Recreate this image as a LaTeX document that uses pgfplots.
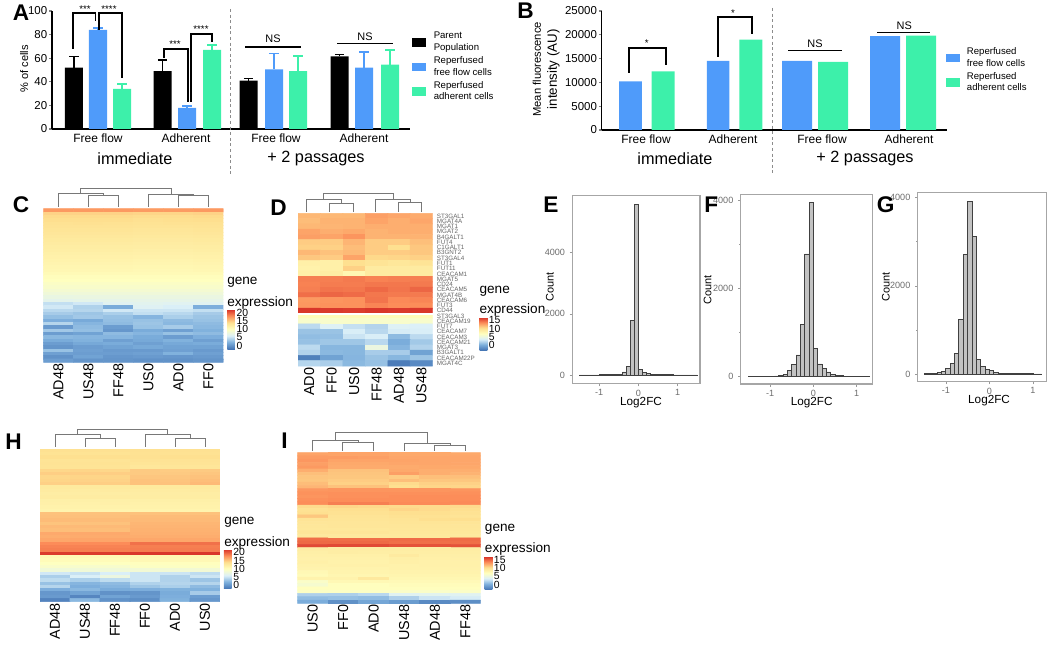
\documentclass[border=0pt]{standalone}
\usepackage{fontspec}
\setmainfont{Liberation Sans}
\usepackage{pgfplots}
\pgfplotsset{compat=1.18}

\definecolor{cblue}{RGB}{79,155,250}
\definecolor{cgreen}{RGB}{61,240,170}
\definecolor{dendro}{RGB}{120,120,120}
\newcommand{\fs}[1]{\fontsize{#1}{#1}\selectfont}

\pgfplotsset{
  colormap={rdylbu}{rgb255=(69,117,180) rgb255=(125,175,220) rgb255=(220,240,248) rgb255=(255,255,191) rgb255=(254,224,144) rgb255=(252,141,89) rgb255=(215,48,39)},
  /pgf/number format/assume math mode=true,
  /pgf/number format/1000 sep={},
  pos/.style 2 args={at={({#1*0.75pt},{-#2*0.75pt})},anchor=south west},
  swatch/.style={legend image code/.code={\fill[##1,draw=none] (0pt,-3.2pt) rectangle (10.5pt,3.2pt);}},
  barplot/.style={scale only axis,axis x line*=bottom,axis y line*=left,
    axis line style={-,line width=0.9pt},tick align=outside,
    xtick style={draw=none},ytick style={line width=0.8pt},major tick length=2.2pt,
    scaled y ticks=false,
    y tick label style={font=\fs{8.6},inner xsep=1.2pt},x tick label style={font=\fs{9},yshift=2.5pt},
    legend cell align=left,
    legend style={draw=none,fill=none,font=\fontsize{7.2}{8.8}\selectfont,cells={align=left},inner sep=0pt,row sep=-1.1pt,
      /tikz/every odd column/.append style={column sep=3.5pt}}},
  mybar/.style 2 args={ybar,bar shift=0pt,bar width=#1,fill=#2,draw=none,swatch},
  errs/.style={error bars/.cd,y dir=plus,y explicit,
    error bar style={line width=1.2pt,color=#1},
    error mark options={rotate=90,mark size=3.4pt,line width=1.2pt,color=#1}},
  hist/.style={scale only axis,axis line style={draw=gray!70,line width=0.9pt},
    tick align=outside,major tick length=2pt,minor tick length=1.2pt,
    every tick/.style={draw=gray!80},xtick pos=lower,ytick pos=left,
    tick label style={font=\fs{6.8},text=gray!85!black},x tick label style={yshift=1pt},xtick={-1,0,1},
    label style={font=\fs{8}}},
  histbar/.style={ybar interval,fill=gray!48,draw=black!75,line width=0.65pt},
  heat/.style={scale only axis,y dir=reverse,axis line style={draw=none},tick style={draw=none},
    enlargelimits=false,xmin=-0.5,xmax=5.5,ymin=-0.5,ymax=#1-0.5,ytick=\empty,xtick={0,...,5},
    x tick label style={rotate=90,anchor=east,font=\fs{10.8},inner xsep=1pt},
    colormap name=rdylbu,colorbar},
  cbar/.style 2 args={colorbar style={at={#1},anchor=north west,width=5.8pt,height=#2,
    ytick={0,5,...,20},ytick pos=right,yticklabel pos=right,major tick length=0pt,
    axis line style={draw=none},tick style={draw=none},y dir=normal,
    y tick label style={font=\fs{7.8},inner xsep=1pt}}},
  cell/.style={matrix plot*,mesh/cols=6,point meta=explicit},
}
\tikzset{
  px/.style={x=0.75pt,y=-0.75pt},
  dend/.style={draw=dendro,line width=0.75pt},
  brk/.style={draw=black,line width=1.3pt},
  sep/.style={draw=gray!90,line width=0.6pt,dashed,dash pattern=on 2.2pt off 2pt},
  head/.style={font=\bfseries\fs{17},anchor=base west,inner sep=0pt},
  small/.style={font=\fs{7.3},inner sep=0pt},
  ns/.style={font=\fs{8.2},inner sep=0pt},
  big/.style={font=\fs{12.2},inner sep=0pt},
  gene/.style={font=\fs{10.2},anchor=west,inner sep=0pt},
}

\begin{document}
\begin{tikzpicture}
\path[use as bounding box] (0pt,0pt) rectangle (787.5pt,-483.75pt);

% ---------- A
\begin{axis}[pos={52}{129},barplot,width=268.5pt,height=88.5pt,
  xmin=52,xmax=410,ymin=0,ymax=100,ytick={0,20,...,100},
  xtick={98,186,276,364},xticklabels={Free flow,Adherent,Free flow,Adherent},
  ylabel={\fs{8.3}\% of cells},
  every axis y label/.style={at={(axis description cs:-0.078,0.51)},rotate=90,anchor=center},
  legend style={at={(1.006,0.844)},anchor=north west}]
\addplot[mybar={13.5pt}{black},errs=black] coordinates {(74,52) +- (0,9.5) (162.5,49) +- (0,9.5) (248.5,41) +- (0,1.7) (339.5,61.5) +- (0,1.7)};
\addlegendentry{Parent\\Population}
\addplot[mybar={13.5pt}{cblue},errs=cblue] coordinates {(98,84) +- (0,1.5) (187,18) +- (0,1.5) (274,50.5) +- (0,13.5) (364,52) +- (0,13.5)};
\addlegendentry{Reperfused\\free flow cells}
\addplot[mybar={13.5pt}{cgreen},errs=cgreen] coordinates {(122,34) +- (0,4) (212,67) +- (0,4) (298,49) +- (0,13) (390,54.5) +- (0,12.5)};
\addlegendentry{Reperfused\\adherent cells}
\end{axis}
\begin{scope}[px]
\draw[brk] (73,49)--(73,12.7)--(95.5,12.7)--(95.5,21);
\draw[brk] (99.3,30)--(99.3,12.7)--(122.3,12.7)--(122.3,78);
\draw[brk] (164,58)--(164,49)--(187.7,49)--(187.7,101.7);
\draw[brk] (190.7,101.7)--(190.7,34)--(212,34)--(212,41.7);
\draw[brk,line width=0.9pt] (245,47)--(301,47);
\draw[brk,line width=0.9pt] (337.3,43.7)--(393.3,43.7);
\node[small] at (85,9) {***};
\node[small] at (109,9) {****};
\node[small] at (175,44) {***};
\node[small] at (201,29) {****};
\node[ns] at (273,38.7) {NS};
\node[ns] at (365,36.7) {NS};
\draw[sep] (230,9)--(230,175);
\node[big] at (135,159) {immediate};
\node[big] at (316,159) {+ 2 passages};
\node[head] at (12.7,21) {A};
\end{scope}

% ---------- B
\begin{axis}[pos={601.7}{130},barplot,width=259pt,height=89.25pt,
  xmin=601.7,xmax=947,ymin=0,ymax=25000,ytick={0,5000,...,25000},
  xtick={646,733,822,909},xticklabels={Free flow,Adherent,Free flow,Adherent},
  ylabel={\fs{8.4}Mean fluorescence\\intensity (AU)},
  every axis y label/.style={at={(axis description cs:-0.161,0.51)},rotate=90,anchor=center,align=center},
  legend style={at={(0.995,0.718)},anchor=north west}]
\addplot[mybar={16.9pt}{cblue}] coordinates {(630.5,10200) (718.2,14500)};
\addlegendentry{Reperfused\\free flow cells}
\addplot[mybar={17.2pt}{cgreen}] coordinates {(663.2,12300) (750.8,19000)};
\addlegendentry{Reperfused\\adherent cells}
\addplot[mybar={22.5pt}{cblue},forget plot] coordinates {(797,14500) (885,19700)};
\addplot[mybar={22.5pt}{cgreen},forget plot] coordinates {(833,14300) (921,19800)};
\end{axis}
\begin{scope}[px]
\draw[brk] (629.3,72.7)--(629.3,48.3)--(665.7,48.3)--(665.7,65);
\draw[brk] (718,56.7)--(718,17.3)--(752,17.3)--(752,34.3);
\draw[brk,line width=0.9pt] (788.3,50.7)--(842,50.7);
\draw[brk,line width=0.9pt] (877,32.7)--(930.3,32.7);
\node[small] at (646.7,43) {*};
\node[small] at (733,13) {*};
\node[ns] at (815,43.3) {NS};
\node[ns] at (904.3,25.3) {NS};
\draw[sep] (772.7,8)--(772.7,175);
\node[big] at (675,159) {immediate};
\node[big] at (865,159) {+ 2 passages};
\node[head] at (517,18.7) {B};
\end{scope}

% ---------- C
\begin{axis}[pos={43.3}{362.3},heat=46,width=135pt,height=115.2pt,
  point meta min=-2.2,point meta max=22,
  xticklabels={AD48,US48,FF48,US0,AD0,FF0},
  cbar={(1.022,0.345)}{29.8pt}]
\addplot[cell] table[row sep=\\,header=false,x expr={mod(\coordindex,6)},y expr={floor((\coordindex+0.5)/6)},meta index=0]{
17.4\\17.4\\17.4\\17.3\\17.3\\17.4\\
14.6\\14.6\\14.6\\14.5\\14.5\\14.6\\
14.2\\14.2\\14.2\\14.1\\14.1\\14.2\\
14.0\\14.0\\14.0\\13.8\\13.9\\14.0\\
13.7\\13.8\\13.7\\13.6\\13.7\\13.7\\
13.5\\13.5\\13.5\\13.4\\13.4\\13.5\\
13.3\\13.3\\13.3\\13.2\\13.2\\13.3\\
13.1\\13.1\\13.1\\13.0\\13.0\\13.1\\
12.9\\12.9\\12.9\\12.8\\12.8\\12.9\\
12.7\\12.7\\12.7\\12.6\\12.6\\12.7\\
12.5\\12.5\\12.5\\12.4\\12.4\\12.5\\
12.3\\12.3\\12.3\\12.2\\12.2\\12.3\\
12.1\\12.1\\12.1\\12.0\\12.0\\12.1\\
11.9\\11.9\\11.9\\11.8\\11.8\\11.9\\
11.7\\11.7\\11.7\\11.6\\11.6\\11.7\\
11.5\\11.5\\11.5\\11.4\\11.4\\11.5\\
11.3\\11.3\\11.3\\11.2\\11.2\\11.3\\
11.1\\11.1\\11.1\\11.0\\11.0\\11.1\\
10.9\\10.9\\10.9\\10.8\\10.8\\10.9\\
10.6\\10.6\\10.6\\10.6\\10.6\\10.6\\
10.2\\10.2\\10.2\\10.2\\10.2\\10.2\\
9.9\\9.9\\9.9\\9.9\\9.9\\9.9\\
9.5\\9.5\\9.5\\9.5\\9.5\\9.5\\
9.1\\9.1\\9.1\\9.1\\9.1\\9.1\\
8.6\\8.6\\8.6\\8.6\\8.6\\8.6\\
8.1\\8.1\\8.1\\8.1\\8.1\\8.1\\
7.4\\7.5\\7.5\\7.5\\7.5\\7.5\\
6.8\\6.9\\6.9\\7.0\\7.0\\7.0\\
4.8\\5.4\\6.4\\6.6\\6.4\\6.4\\
5.4\\4.0\\1.6\\6.2\\5.8\\1.8\\
4.4\\4.2\\5.4\\5.2\\5.2\\4.8\\
3.6\\3.2\\3.8\\4.8\\4.4\\3.6\\
2.8\\3.4\\3.0\\2.2\\3.8\\3.2\\
1.8\\1.5\\2.8\\3.0\\2.6\\3.0\\
4.2\\2.2\\2.6\\3.2\\2.4\\2.6\\
0.4\\2.6\\0.6\\3.0\\3.6\\2.4\\
3.4\\2.8\\0.2\\1.6\\0.8\\2.0\\
0.6\\1.0\\2.6\\2.2\\3.0\\2.6\\
2.4\\2.2\\2.2\\1.6\\0.6\\1.8\\
1.6\\2.0\\0.8\\1.4\\2.0\\0.8\\
0.6\\1.4\\1.6\\0.8\\1.4\\1.6\\
0.0\\0.6\\1.0\\1.4\\1.0\\1.0\\
3.0\\0.8\\0.4\\0.4\\0.8\\0.4\\
0.8\\0.6\\0.6\\0.8\\2.0\\0.8\\
-0.2\\1.0\\0.2\\0.4\\0.2\\0.4\\
0.6\\0.0\\0.0\\-0.2\\-0.2\\0.0\\
};
\end{axis}
\begin{scope}[px]
\draw[dend] (88.3,206.7)--(88.3,195.3)--(118.3,195.3)--(118.3,206.7);
\draw[dend] (58.3,206.7)--(58.3,193.3)--(103.3,193.3)--(103.3,195.3);
\draw[dend] (80.8,193.3)--(80.8,189)--(171,189)--(171,194.3);
\draw[dend] (148.3,206.7)--(148.3,194.3)--(193.3,194.3)--(193.3,195.3);
\draw[dend] (178.3,206.7)--(178.3,195.3)--(208.3,195.3)--(208.3,206.7);
\node[gene] at (227,282.7) {gene};
\node[gene] at (227,302.7) {expression};
\node[head] at (12.7,213) {C};
\end{scope}

% ---------- D
\begin{axis}[pos={298}{366},heat=29,width=101pt,height=114.5pt,
  point meta min=-3,point meta max=16.8,
  xticklabels={AD0,FF0,US0,FF48,AD48,US48},
  ytick={0,...,28},yticklabel pos=right,
  yticklabels={ST3GAL1,MGAT4A,MGAT1,MGAT2,B4GALT1,FUT4,C1GALT1,B3GNT2,ST3GAL4,FUT1,FUT11,CEACAM1,MGAT5,CD24,CEACAM5,MGAT4B,CEACAM6,FUT3,CD44,ST3GAL3,CEACAM19,FUT7,CEACAM7,CEACAM3,CEACAM21,MGAT3,B3GALT1,CEACAM22P,MGAT4C},
  y tick label style={font=\fs{4.7},text=gray!80!black,inner xsep=1pt,xshift=2pt},
  cbar={(1.348,0.32)}{24.75pt}]
\addplot[cell] table[row sep=\\,header=false,x expr={mod(\coordindex,6)},y expr={floor((\coordindex+0.5)/6)},meta index=0]{
11.8\\11.8\\11.8\\12.8\\12.5\\12.3\\
11.6\\12.0\\12.0\\12.6\\12.2\\12.5\\
11.8\\11.9\\12.0\\12.2\\12.2\\12.2\\
12.6\\12.2\\12.4\\12.0\\12.2\\12.2\\
12.8\\12.6\\13.2\\12.0\\12.0\\12.0\\
11.0\\11.0\\11.9\\11.0\\11.0\\11.5\\
10.8\\10.8\\11.6\\11.0\\10.2\\11.2\\
11.8\\11.4\\11.7\\11.0\\11.0\\11.2\\
11.2\\11.0\\12.6\\10.5\\10.6\\10.8\\
8.5\\8.5\\10.2\\9.8\\9.5\\9.8\\
8.3\\8.5\\10.8\\9.0\\9.0\\9.0\\
8.5\\8.8\\7.8\\9.0\\9.0\\9.0\\
14.0\\14.0\\14.2\\13.9\\14.0\\14.0\\
13.9\\14.1\\14.1\\14.3\\14.3\\14.2\\
14.0\\14.4\\14.3\\14.8\\14.4\\14.9\\
14.6\\14.9\\14.7\\14.3\\14.2\\14.2\\
13.0\\13.2\\13.3\\14.4\\13.6\\13.8\\
13.1\\13.3\\13.3\\13.8\\13.5\\13.5\\
16.6\\16.5\\16.4\\16.6\\16.5\\16.6\\
7.4\\7.4\\7.4\\7.3\\7.4\\7.4\\
6.2\\6.2\\6.3\\6.2\\6.2\\6.2\\
2.5\\3.8\\2.8\\2.2\\3.8\\3.6\\
1.3\\1.3\\3.5\\2.4\\3.4\\3.5\\
1.0\\1.1\\3.0\\3.5\\0.9\\2.5\\
1.2\\1.5\\1.5\\2.4\\0.2\\1.6\\
2.5\\0.7\\0.7\\5.0\\0.6\\2.1\\
2.1\\0.8\\0.7\\1.8\\1.8\\-0.4\\
-2.4\\-0.4\\0.6\\1.3\\0.7\\1.4\\
2.3\\1.9\\0.8\\1.2\\-2.6\\-1.8\\
};
\end{axis}
\begin{scope}[px]
\draw[white,line width=1pt] (298,314)--(432.7,314);
\draw[dend] (329.7,211.7)--(329.7,203.3)--(353,203.3)--(353,211.7);
\draw[dend] (306.3,211.7)--(306.3,199.3)--(341.3,199.3)--(341.3,203.3);
\draw[dend] (323.7,199.3)--(323.7,193.3)--(393,193.3)--(393,199.3);
\draw[dend] (375.7,211.7)--(375.7,199.3)--(410.3,199.3)--(410.3,202.7);
\draw[dend] (398.7,211.7)--(398.7,202.7)--(421.7,202.7)--(421.7,211.7);
\node[gene] at (479.3,291) {gene};
\node[gene] at (479.3,310) {expression};
\node[head] at (270,215.5) {D};
\end{scope}

% ---------- E
\begin{axis}[pos={572.3}{383.7},hist,width=95.8pt,height=141pt,
  xmin=-1.685,xmax=1.574,ymin=-283,ymax=5864,ytick={0,2000,4000},
  xlabel={Log2FC},ylabel={Count},
  every axis x label/.style={at={(axis description cs:0.538,-0.103)},anchor=center,font=\fs{8.8}},
  every axis y label/.style={at={(axis description cs:-0.175,0.516)},rotate=90,anchor=center,font=\fs{8.2}}]
\addplot[histbar] coordinates {(-1.5,2) (-1.4,2) (-1.3,2) (-1.2,3) (-1.1,3) (-1.0,4) (-0.9,5) (-0.8,8) (-0.7,10) (-0.6,15) (-0.5,30) (-0.4,100) (-0.3,294) (-0.2,1777) (-0.1,5591) (0,185) (0.1,87) (0.2,40) (0.3,25) (0.4,15) (0.5,10) (0.6,6) (0.7,5) (0.8,4) (0.9,3) (1.0,3) (1.1,2) (1.2,2) (1.3,2) (1.4,2) (1.5,2)};
\end{axis}

% ---------- F
\begin{axis}[pos={740.7}{384},hist,width=99pt,height=142.3pt,
  xmin=-1.683,xmax=1.375,ymin=-167,ymax=4144,ytick={0,2000,4000},minor ytick={1000,3000},
  xlabel={Log2FC},ylabel={Count},
  every axis x label/.style={at={(axis description cs:0.538,-0.096)},anchor=center,font=\fs{8.8}},
  every axis y label/.style={at={(axis description cs:-0.25,0.495)},rotate=90,anchor=center,font=\fs{8.2}}]
\addplot[histbar] coordinates {(-1.5,2) (-1.4,3) (-1.3,3) (-1.2,4) (-1.1,6) (-1.0,8) (-0.9,15) (-0.8,30) (-0.7,60) (-0.6,136) (-0.5,280) (-0.4,492) (-0.3,1190) (-0.2,2788) (-0.1,3955) (0,630) (0.1,288) (0.2,182) (0.3,106) (0.4,50) (0.5,30) (0.6,18) (0.7,10) (0.8,6) (0.9,5) (1.0,3) (1.1,3) (1.2,2) (1.3,2)};
\end{axis}

% ---------- G
\begin{axis}[pos={917.7}{381.7},hist,width=96.8pt,height=141.75pt,
  xmin=-1.647,xmax=1.318,ymin=-174,ymax=4113,ytick={0,2000,4000},minor ytick={1000,3000},
  xlabel={Log2FC},ylabel={Count},
  every axis x label/.style={at={(axis description cs:0.553,-0.102)},anchor=center,font=\fs{8.8}},
  every axis y label/.style={at={(axis description cs:-0.246,0.5)},rotate=90,anchor=center,font=\fs{8.2}}]
\addplot[histbar] coordinates {(-1.5,4) (-1.4,6) (-1.3,10) (-1.2,25) (-1.1,60) (-1.0,130) (-0.9,242) (-0.8,469) (-0.7,1240) (-0.6,2722) (-0.5,3924) (-0.4,3130) (-0.3,340) (-0.2,180) (-0.1,106) (0,75) (0.1,30) (0.2,15) (0.3,10) (0.4,8) (0.5,6) (0.6,5) (0.7,4) (0.8,3) (0.9,3) (1.0,2) (1.1,2) (1.2,2)};
\end{axis}
\begin{scope}[px]
\node[head] at (543,213) {E};
\node[head] at (704,213) {F};
\node[head] at (876.7,213) {G};
\end{scope}

% ---------- H
\begin{axis}[pos={40}{601.7},heat=46,width=135pt,height=114.5pt,
  point meta min=-2.2,point meta max=22,
  xticklabels={AD48,US48,FF48,FF0,AD0,US0},
  cbar={(1.022,0.345)}{29.8pt}]
\addplot[cell] table[row sep=\\,header=false,x expr={mod(\coordindex,6)},y expr={floor((\coordindex+0.5)/6)},meta index=0]{
13.8\\13.8\\13.8\\13.8\\13.8\\13.8\\
13.6\\13.6\\13.6\\13.7\\13.7\\13.7\\
13.9\\13.9\\13.9\\13.8\\13.9\\13.9\\
13.4\\13.4\\13.4\\13.5\\13.5\\13.5\\
13.5\\13.5\\13.6\\13.3\\13.4\\13.4\\
13.4\\13.4\\13.4\\13.0\\13.2\\13.2\\
14.4\\14.5\\14.4\\15.0\\14.9\\15.0\\
14.8\\14.8\\14.8\\15.0\\15.0\\15.2\\
14.4\\14.5\\14.5\\15.2\\15.2\\15.4\\
14.5\\14.6\\14.6\\15.4\\15.3\\15.6\\
14.7\\14.8\\14.8\\15.4\\15.4\\15.8\\
12.7\\12.7\\12.7\\12.7\\12.7\\12.7\\
12.5\\12.4\\12.5\\12.4\\12.4\\12.5\\
12.2\\12.2\\12.2\\12.2\\12.2\\12.2\\
12.4\\12.4\\12.4\\12.3\\12.3\\12.3\\
11.9\\11.9\\11.9\\11.9\\11.9\\11.9\\
11.8\\11.7\\11.8\\11.7\\11.7\\11.7\\
11.6\\11.6\\11.6\\11.6\\11.6\\11.6\\
11.4\\11.4\\11.4\\11.4\\11.4\\11.4\\
15.4\\15.4\\15.4\\15.4\\15.4\\15.4\\
15.5\\15.5\\15.5\\15.7\\15.7\\15.7\\
15.7\\15.7\\15.7\\15.8\\15.8\\15.8\\
15.3\\15.4\\15.4\\16.0\\16.0\\16.0\\
15.8\\15.8\\15.8\\16.1\\16.1\\16.1\\
15.6\\15.6\\15.6\\16.2\\16.2\\16.2\\
16.6\\16.6\\16.6\\16.3\\16.3\\16.3\\
16.4\\16.5\\16.5\\16.4\\16.4\\16.4\\
16.7\\16.8\\16.8\\16.7\\16.7\\16.7\\
18.0\\18.0\\18.0\\19.2\\19.2\\19.2\\
18.4\\18.4\\18.4\\18.6\\18.6\\18.6\\
18.6\\18.6\\18.6\\18.7\\18.7\\18.7\\
21.6\\21.6\\21.6\\21.8\\21.8\\21.8\\
10.8\\10.8\\10.8\\11.0\\11.0\\11.0\\
10.4\\10.4\\10.4\\10.8\\10.8\\10.8\\
9.8\\9.8\\9.8\\10.0\\10.0\\10.0\\
9.2\\9.0\\9.0\\9.6\\9.6\\9.6\\
8.2\\8.2\\8.2\\8.4\\8.4\\8.4\\
5.4\\5.0\\5.8\\5.2\\5.2\\4.6\\
3.8\\5.8\\7.6\\5.2\\4.0\\5.2\\
4.6\\3.8\\4.6\\5.2\\4.0\\3.2\\
3.0\\2.2\\2.6\\4.0\\4.2\\4.2\\
4.2\\1.8\\2.2\\3.2\\3.8\\2.6\\
1.8\\2.4\\1.6\\1.8\\2.0\\2.0\\
0.2\\1.0\\-0.2\\0.0\\1.6\\3.6\\
0.4\\-1.0\\1.0\\0.4\\1.8\\0.6\\
-1.2\\2.4\\-0.2\\-0.4\\2.0\\0.2\\
};
\end{axis}
\begin{scope}[px]
\draw[dend] (85,446.7)--(85,438.3)--(115,438.3)--(115,446.7);
\draw[dend] (55,446.7)--(55,434)--(100,434)--(100,438.3);
\draw[dend] (77.3,434)--(77.3,429.3)--(167.7,429.3)--(167.7,434.3);
\draw[dend] (145,446.7)--(145,434.3)--(190,434.3)--(190,438.3);
\draw[dend] (175,446.7)--(175,438.3)--(205,438.3)--(205,446.7);
\node[gene] at (224,522.7) {gene};
\node[gene] at (224,542.7) {expression};
\node[head] at (5,449) {H};
\end{scope}

% ---------- I
\begin{axis}[pos={297.3}{603.3},heat=46,width=137.5pt,height=113pt,
  point meta min=-3,point meta max=16.8,
  xticklabels={US0,FF0,AD0,US48,AD48,FF48},
  cbar={(1.022,0.31)}{24.75pt}]
\addplot[cell] table[row sep=\\,header=false,x expr={mod(\coordindex,6)},y expr={floor((\coordindex+0.5)/6)},meta index=0]{
12.6\\12.6\\12.6\\12.4\\12.4\\12.4\\
12.9\\12.9\\12.8\\12.5\\12.5\\12.5\\
13.1\\12.6\\12.6\\12.6\\12.5\\12.5\\
12.8\\12.4\\12.4\\12.5\\12.5\\12.5\\
13.0\\12.3\\12.3\\12.3\\12.4\\12.4\\
12.2\\11.4\\11.4\\12.4\\12.2\\12.2\\
11.5\\11.3\\11.3\\12.8\\12.2\\12.0\\
11.3\\11.2\\11.2\\11.0\\11.5\\11.5\\
11.2\\11.0\\11.0\\11.5\\11.2\\11.2\\
11.6\\10.8\\10.8\\10.4\\10.8\\10.8\\
11.9\\11.4\\11.4\\10.2\\10.6\\10.6\\
13.1\\13.2\\13.2\\13.2\\13.2\\13.2\\
13.3\\13.4\\13.4\\13.4\\13.4\\13.4\\
13.2\\13.4\\13.4\\13.5\\13.5\\13.5\\
13.4\\13.5\\13.5\\13.5\\13.5\\13.5\\
13.5\\14.0\\14.0\\13.6\\13.6\\13.6\\
10.4\\10.6\\10.5\\10.4\\10.4\\10.4\\
10.0\\10.2\\10.2\\10.6\\10.4\\10.2\\
10.2\\10.0\\10.0\\10.2\\10.2\\10.0\\
11.2\\9.8\\9.8\\10.0\\10.0\\9.8\\
9.8\\9.7\\9.7\\9.8\\10.2\\10.2\\
9.6\\9.6\\9.6\\9.7\\9.7\\9.7\\
9.5\\9.6\\9.6\\9.6\\9.6\\9.6\\
9.4\\9.4\\9.4\\9.5\\9.5\\9.5\\
9.6\\9.6\\9.6\\9.4\\9.4\\9.4\\
9.2\\9.2\\9.2\\9.3\\9.3\\9.3\\
14.6\\14.6\\14.6\\14.7\\14.7\\14.7\\
14.8\\14.8\\14.8\\14.6\\14.6\\14.6\\
15.9\\15.9\\15.9\\15.6\\15.6\\15.6\\
8.8\\8.8\\8.8\\8.8\\8.8\\8.8\\
8.6\\8.8\\8.7\\8.7\\8.7\\8.7\\
8.5\\8.5\\8.5\\9.1\\8.6\\8.6\\
8.4\\8.4\\8.4\\8.6\\8.5\\8.5\\
8.5\\8.3\\8.3\\8.5\\8.4\\8.4\\
8.3\\8.4\\8.4\\8.3\\8.4\\8.4\\
8.2\\8.2\\8.2\\8.3\\8.3\\8.3\\
7.6\\8.1\\8.1\\8.2\\8.2\\8.2\\
7.4\\7.9\\7.9\\8.0\\8.0\\8.0\\
8.2\\8.2\\9.2\\7.8\\7.8\\7.8\\
6.4\\7.6\\7.6\\7.5\\7.5\\7.5\\
6.0\\7.0\\7.0\\7.2\\7.2\\7.2\\
7.0\\7.0\\7.0\\7.0\\7.0\\7.0\\
6.6\\6.6\\6.6\\6.4\\6.4\\6.5\\
2.0\\2.0\\2.4\\4.0\\4.2\\4.0\\
1.0\\1.2\\1.0\\2.0\\3.0\\3.4\\
0.2\\-1.4\\-0.2\\-0.8\\-1.8\\-1.6\\
};
\end{axis}
\begin{scope}[px]
\draw[dend] (342.7,450.7)--(342.7,442.7)--(373.7,442.7)--(373.7,450.7);
\draw[dend] (312.3,450.7)--(312.3,440)--(358,440)--(358,442.7);
\draw[dend] (335,440)--(335,432.7)--(427,432.7)--(427,443.3);
\draw[dend] (404,450.7)--(404,443.3)--(450,443.3)--(450,445.7);
\draw[dend] (434.7,450.7)--(434.7,445.7)--(465.7,445.7)--(465.7,450.7);
\node[gene] at (484.7,529.3) {gene};
\node[gene] at (484.7,549) {expression};
\node[head] at (281,448) {I};
\end{scope}
\end{tikzpicture}
\end{document}
